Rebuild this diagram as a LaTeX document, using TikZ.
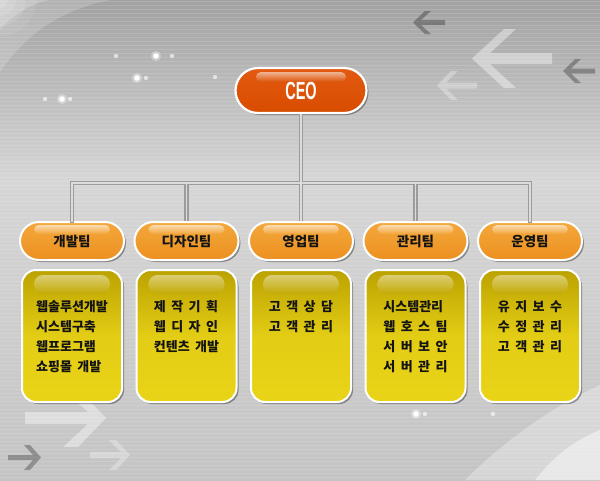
\documentclass[tikz,border=0pt]{standalone}
\usepackage{fontspec}
\setmainfont{Noto Sans CJK KR}
\newfontfamily\ceofont{Liberation Sans}
\usetikzlibrary{shadows}
\newcommand\itemfont{\fontsize{13}{20}\selectfont\bfseries\spaceskip=0.42em\relax}
\definecolor{bgtop}{HTML}{A2A2A2}
\definecolor{bgmid}{HTML}{D6D6D6}
\definecolor{bgbot}{HTML}{C4C4C4}
\definecolor{ceoc}{HTML}{D84C00}
\definecolor{ceotop}{HTML}{E25A10}
\definecolor{pilltop}{HTML}{F4A83C}
\definecolor{pillbot}{HTML}{EC9020}
\definecolor{boxtop}{HTML}{BCA200}
\definecolor{boxbot}{HTML}{EAD418}
\definecolor{txt}{HTML}{141414}
\definecolor{connout}{HTML}{9C9C9C}
\definecolor{connin}{HTML}{DCDCDC}
\tikzset{
  shad/.style={drop shadow={shadow xshift=2pt, shadow yshift=-2pt, fill=black, opacity=0.35}},
  ceopill/.style={rounded corners=22.5pt, minimum width=131pt, minimum height=45pt, inner sep=0pt,
    draw=white, line width=2.2pt, top color=ceotop, bottom color=ceoc, shad, text=white},
  teampill/.style={rounded corners=19pt, minimum width=104pt, minimum height=38pt, inner sep=0pt,
    draw=white, line width=2pt, top color=pilltop, bottom color=pillbot, shad, text=txt,
    font=\fontsize{13.5}{13.5}\selectfont\bfseries},
  itembox/.style={rounded corners=14pt, minimum width=100pt, minimum height=132pt, inner sep=0pt,
    draw=white, line width=2pt, top color=boxtop, bottom color=boxbot, middle color=boxbot!85!boxtop, shad},
  itemtext/.style={anchor=north, align=left, inner sep=0pt, text=txt, font=\itemfont},
  connouter/.style={draw=connout, line width=4.5pt},
  conninner/.style={draw=connin, line width=1.6pt},
  darkarrow/.style={fill=black, opacity=0.28},
  lightarrow/.style={fill=white, opacity=0.4},
}
\begin{document}
\begin{tikzpicture}[x=1pt,y=-1pt]
\useasboundingbox (0,0) rectangle (600,480);
% background
\shade[top color=bgtop, bottom color=bgmid] (0,0) rectangle (600,180);
\shade[top color=bgmid, bottom color=bgbot] (0,180) rectangle (600,480);
\fill[white, opacity=0.18] (0,0) -- (0,72) .. controls (25,35) and (60,10) .. (110,0) -- cycle;
\fill[white, opacity=0.2] (0,0) -- (0,30) .. controls (12,15) and (30,4) .. (50,0) -- cycle;
\foreach \rr/\op in {36/0.08, 26/0.1, 16/0.12, 8/0.15}
  \fill[white, opacity=\op] (0,0) circle (\rr);
\fill[white, opacity=0.3] (465,480) .. controls (505,440) and (555,405) .. (600,385) -- (600,480) -- cycle;
\fill[white, opacity=0.45] (535,480) .. controls (555,455) and (575,440) .. (600,430) -- (600,480) -- cycle;
\foreach \yy in {1,5,...,480} \draw[white, opacity=0.13, line width=1pt] (0,\yy) -- (600,\yy);
% decorative arrows
\fill[lightarrow] (472,58.5) -- (504,29) -- (516,29) -- (490,53) -- (552,53) -- (552,64) -- (490,64) -- (516,88) -- (504,88) -- cycle;
\fill[darkarrow] (413,22.5) -- (425,11) -- (431,11) -- (421,20) -- (445,20) -- (445,25) -- (421,25) -- (431,34) -- (425,34) -- cycle;
\fill[darkarrow] (563,71) -- (575,59) -- (581,59) -- (571,68.5) -- (595,68.5) -- (595,73.5) -- (571,73.5) -- (581,83) -- (575,83) -- cycle;
\fill[lightarrow, opacity=0.3] (437,85.5) -- (451,71) -- (458,71) -- (446,82.5) -- (477,82.5) -- (477,88.5) -- (446,88.5) -- (458,100) -- (451,100) -- cycle;
\fill[lightarrow] (106,418) -- (78,447) -- (63,447) -- (88,424) -- (25,424) -- (25,412) -- (88,412) -- (63,389) -- (78,389) -- cycle;
\fill[darkarrow] (41,457.5) -- (30,470) -- (24,470) -- (33,460) -- (8,460) -- (8,455) -- (33,455) -- (24,445) -- (30,445) -- cycle;
\fill[lightarrow, opacity=0.3] (130,455) -- (116,440) -- (109,440) -- (121,452) -- (90,452) -- (90,458) -- (121,458) -- (109,470) -- (116,470) -- cycle;
% sparkles
\foreach \px/\py in {156/56, 137/78, 62/99, 416/414} {
  \fill[white, opacity=0.35] (\px,\py) circle (5);
  \fill[white] (\px,\py) circle (2.8);
}
\foreach \px/\py in {116/56, 172/56, 146/78, 215/77, 45/99, 70/99, 425/414, 493/414}
  \fill[white, opacity=0.6] (\px,\py) circle (2.2);
% CEO
\node[ceopill] (ceo) at (301,90.5) {\scalebox{0.58}[1]{\ceofont\fontsize{25}{25}\selectfont\bfseries CEO}};
\shade[top color=white, bottom color=ceoc, opacity=0.55, rounded corners=5pt] (256,72) rectangle (346,82);
% teams
\foreach \cx/\nm/\id/\items in {
  72/개발팀/1/{웹솔루션개발\\시스템구축\\웹프로그램\\쇼핑몰 개발},
  186.5/디자인팀/2/{제 작 기 획\\웹 디 자 인\\컨텐츠 개발},
  301/영업팀/3/{고 객 상 담\\고 객 관 리},
  415.5/관리팀/4/{시스템관리\\웹 호 스 팀\\서 버 보 안\\서 버 관 리},
  530/운영팀/5/{유 지 보 수\\수 정 관 리\\고 객 관 리}} {
  \node[teampill] (t\id) at (\cx,241) {\nm};
  \shade[top color=white, bottom color=pilltop, opacity=0.6, rounded corners=5pt] (\cx-38,225) rectangle (\cx+38,234);
  \node[itembox] (b\id) at (\cx,336) {};
  \shade[top color=white, bottom color=boxtop, opacity=0.45, rounded corners=9pt] (\cx-38,275) rectangle (\cx+38,294);
  \node[itemtext] (l\id) at (\cx,300) {\items};
}
% connectors
\coordinate (bus) at (301,183);
\foreach \st in {connouter, conninner} {
  \draw[\st] (ceo.south) -- (bus);
  \draw[\st, line cap=rect] (bus) -| (t1.north);
  \draw[\st, line cap=rect] (bus) -| (t5.north);
  \draw[\st] (bus) -| (t2.north);
  \draw[\st] (bus) -| (t3.north);
  \draw[\st] (bus) -| (t4.north);
}
\end{tikzpicture}
\end{document}
